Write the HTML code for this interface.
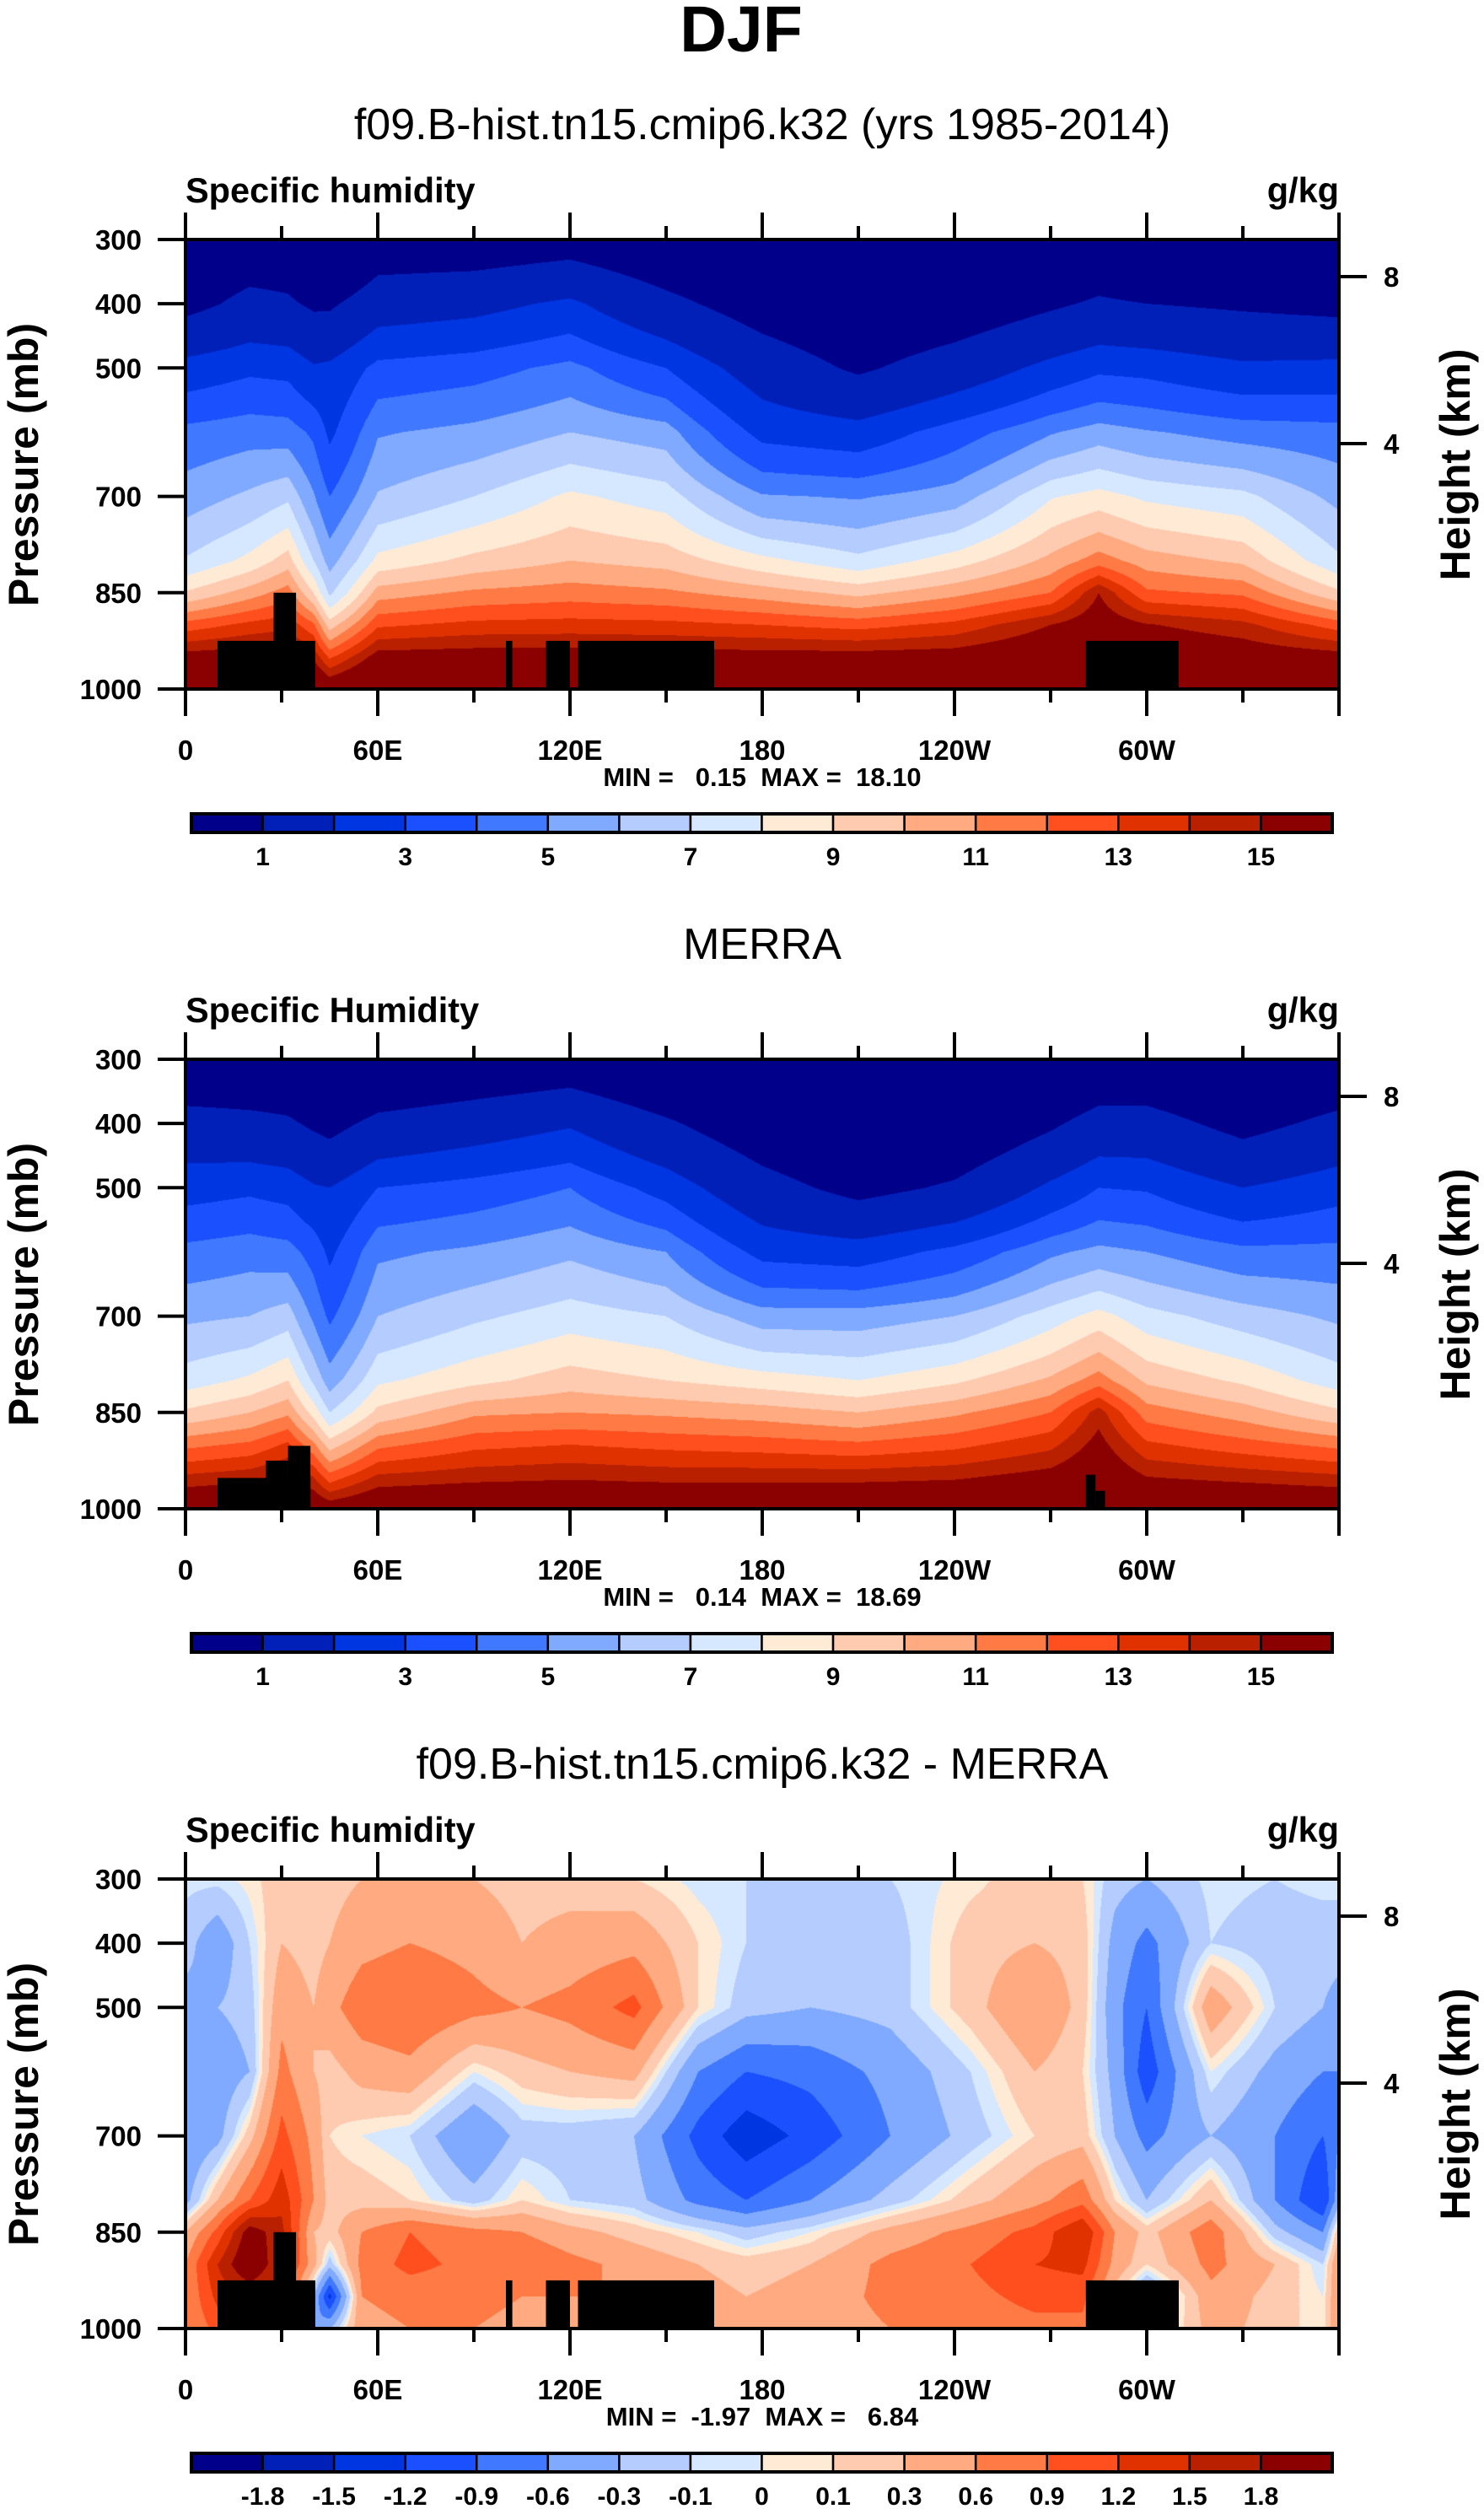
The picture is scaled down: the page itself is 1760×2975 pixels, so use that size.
<!DOCTYPE html>
<html><head><meta charset="utf-8"><style>
html,body{margin:0;padding:0;background:#fff;}
#wrap{position:relative;width:1760px;height:2975px;overflow:hidden;}
canvas{position:absolute;left:220px;}
svg{position:absolute;left:0;top:0;}
text{font-family:"Liberation Sans",sans-serif;}
</style></head><body>
<div id="wrap">
<canvas id="c1" width="1368" height="533" style="top:284px"></canvas>
<canvas id="c2" width="1368" height="533" style="top:1256px"></canvas>
<canvas id="c3" width="1368" height="533" style="top:2228px"></canvas>
<svg id="ov" width="1760" height="2975"></svg>
</div>
<script>
// ---------- data ----------
const pLevels = [300,400,500,600,700,800,850,900,950,1000];
const lonsModel = [0,20,32,40,45,60,90,120,150,180,210,240,270,285,300,330,360];
const qModel = [
[0.5,0.8,2.4,4.3,5.5,7.1,9.1,12.4,15.6,18],
[0.6,1.2,2.8,4.6,6.2,8.3,10.5,13.3,15.8,18],
[0.6,1.1,2.7,4.5,6.8,9.5,11.5,13.7,15.8,18],
[0.4,0.9,2.1,3.8,5.1,7,9,12.2,14.8,17.5],
[0.3,0.9,2.2,2.8,4,5.6,6.8,9.5,12.8,16.5],
[0.6,1.5,3.3,4.9,6.1,8.3,10.5,12.8,15.6,18],
[0.6,1.7,3.6,5.3,7,9.3,11.2,13.3,15.7,18],
[0.7,2.2,4.3,6,8.2,10,11.5,13.4,15.7,18],
[0.5,1.2,3,5.5,7.5,9.6,11.2,13.3,15.6,18],
[0.4,0.7,1.5,2.7,5.1,8.3,10.5,13,15.6,18],
[0.3,0.5,0.9,2.4,4.9,7.3,9.7,12.6,15.6,18],
[0.3,0.6,1.4,3.5,5.5,8.5,10.7,13.3,15.7,18],
[0.4,0.9,2.3,4.9,7.9,10.3,12,15,16.5,18],
[0.5,1.1,2.8,5.5,8.4,11.5,15,16,17,18],
[0.4,1,2.7,5.1,7.8,10.5,12.2,15.1,16.5,18],
[0.4,0.9,2.2,4.6,7.3,9.8,11.8,14.3,16,18],
[0.45,0.8,2.3,4.4,5.7,7.2,9.2,12.5,15.6,18]];
const lonsMerra = [0,20,32,40,45,60,90,120,150,180,210,240,270,285,300,330,360];
const qMerra = [
[0.5,1.3,2.6,4.3,5.8,7.5,9.2,11.7,14.2,16.8],
[0.5,1.2,2.8,4.6,6,8.2,10,12.2,14.6,17],
[0.5,1.1,2.6,4.4,6.5,9,10.8,13.2,15.3,17],
[0.4,0.9,2.1,3.6,4.8,6.8,8.6,11.2,14,16.5],
[0.3,0.8,2,2.8,3.8,5.5,7,9.5,12.4,16],
[0.4,1.2,3,4.8,6,7.8,9.3,11.7,14.2,16.8],
[0.5,1.5,3.4,5.2,6.8,8.7,10.8,12.7,14.6,17],
[0.6,1.9,4,5.8,7.5,9.5,11,13,14.8,17],
[0.4,1.1,2.6,5,7,9,10.8,12.7,14.6,17],
[0.3,0.6,1.3,2.7,5.5,8.5,10.5,12.5,14.6,17],
[0.25,0.4,0.8,2.5,5.5,8,10,12.2,14.6,17],
[0.3,0.5,1.1,3.3,6,8.8,10.8,12.7,14.8,17],
[0.4,0.9,2.2,4.8,7.5,10.2,12,13.7,15.5,17.2],
[0.5,1.3,3,5.3,8.4,11.5,14.5,15.5,16.5,17.5],
[0.5,1.3,2.9,5,7.4,9.8,11.5,13.2,15,17],
[0.4,0.8,2,4.3,6.5,8.8,10.5,12.4,14.6,17],
[0.5,1.2,2.6,4.3,5.8,7.5,9.2,11.7,14.2,16.8]];
const lonsDiff = [0,10,20,30,40,45,55,70,90,105,120,140,160,175,195,220,245,265,280,290,300,320,340,355,360];
const qDiff = [
[-0.05,-0.2,-0.4,-0.6,-0.6,-0.4,0.3,0.6,0.6,0.6],
[-0.05,-0.5,-0.3,-0.5,-0.4,0.3,1.0,1.5,1.3,1.0],
[0.05,-0.1,-0.2,-0.3,0.2,0.9,2.0,2.2,1.5,1.2],
[0.2,0.3,0.5,0.7,1.0,1.4,1.6,1.5,1.3,1.2],
[0.1,0.2,0.3,0.3,0.5,0.6,0.3,0.4,-0.3,-0.6],
[0.2,0.3,0.5,0.2,0.1,0.2,0.2,-0.2,-1.3,-0.3],
[0.3,0.5,0.8,0.4,0.0,0.2,0.6,0.7,0.6,0.5],
[0.4,0.6,0.9,0.5,-0.1,0.1,0.9,1.0,0.7,0.6],
[0.3,0.5,0.7,0.0,-0.6,-0.2,0.7,0.8,0.7,0.6],
[0.2,0.3,0.6,0.2,-0.2,0.1,0.6,0.9,0.6,0.5],
[0.2,0.4,0.7,0.3,-0.2,-0.1,0.4,0.7,0.6,0.5],
[0.1,0.5,1.0,0.4,-0.3,-0.2,0.2,0.5,0.6,0.5],
[-0.05,0.1,0.1,-0.6,-1.0,-0.7,0.0,0.3,0.4,0.4],
[-0.1,-0.1,-0.2,-0.9,-1.4,-0.9,-0.2,0.2,0.3,0.3],
[-0.15,-0.2,-0.3,-0.8,-1.1,-0.6,0.0,0.3,0.4,0.4],
[-0.1,-0.2,-0.2,-0.5,-0.6,-0.2,0.4,0.7,0.7,0.6],
[0.05,0.2,0.2,-0.1,-0.2,0.2,0.7,0.9,0.8,0.7],
[0.2,0.3,0.6,0.3,0.1,0.5,1.0,1.2,1.0,0.8],
[0.1,0.2,0.2,0.1,0.2,0.8,1.5,1.3,1.0,0.8],
[-0.2,-0.4,-0.5,-0.4,-0.3,0.1,0.6,0.5,0.2,0.2],
[-0.3,-0.7,-0.9,-1.1,-0.7,-0.3,0.2,0.1,-0.5,-0.3],
[-0.05,-0.1,0.5,0.0,-0.3,0.3,0.8,0.7,0.5,0.4],
[-0.1,-0.2,-0.1,-0.4,-0.6,-0.6,-0.2,0.3,0.2,0.2],
[-0.05,-0.2,-0.3,-0.6,-0.9,-1.2,-0.6,-0.1,0.0,0.0],
[-0.05,-0.2,-0.4,-0.6,-0.6,-0.4,0.3,0.6,0.6,0.6]];
const levelsAbs = [1,2,3,4,5,6,7,8,9,10,11,12,13,14,15];
const levelsDiff = [-1.8,-1.5,-1.2,-0.9,-0.6,-0.3,-0.1,0,0.1,0.3,0.6,0.9,1.2,1.5,1.8];
const labelsAbs = ['1','','3','','5','','7','','9','','11','','13','','15'];
const labelsDiff = ['-1.8','-1.5','-1.2','-0.9','-0.6','-0.3','-0.1','0','0.1','0.3','0.6','0.9','1.2','1.5','1.8'];
const terrainModel = [[10,40.5,925],[27.5,34.5,850],[100,102,925],[112.5,120,925],[122.5,165,925],[281,310,925]];
const terrainMerra = [[10,39,952],[25,32,925],[32,39,902],[281,284,947],[284,287,972]];
const xTickLons = [0,60,120,180,240,300];
const xTickLabels = ['0','60E','120E','180','120W','60W'];
const yTickP = [300,400,500,700,850,1000];
const palette = ['#00008b','#0020b8','#0035e2','#1a50ff','#4078ff','#80aaff','#b4ccff','#d6e8ff','#ffead6','#ffcbb0','#ffaa80','#ff7a45','#ff4f1e','#e03200','#b82000','#8b0000'];

// ---------- geometry ----------
const PX0=220, PW=1368, PH=533;
const panelTops=[284,1256,2228];
function X(lon){return PX0+lon*PW/360;}
function Y(p,top){return top+(p-300)*PH/700;}
function hex(c){return [parseInt(c.slice(1,3),16),parseInt(c.slice(3,5),16),parseInt(c.slice(5,7),16)];}
const palRGB=palette.map(hex);

function drawField(id,lons,grid,levels,useLog){
  const cv=document.getElementById(id),ctx=cv.getContext('2d');
  const img=ctx.createImageData(PW,PH),d=img.data;
  const g=grid.map(col=>col.map(v=>useLog?Math.log(Math.max(v,0.05)):v));
  for(let px=0;px<PW;px++){
    const lon=(px+0.5)*360/PW;
    let i=0;while(i<lons.length-2&&lon>lons[i+1])i++;
    const tx=(lon-lons[i])/(lons[i+1]-lons[i]);
    for(let py=0;py<PH;py++){
      const p=300+(py+0.5)*700/PH;
      let j=0;while(j<pLevels.length-2&&p>pLevels[j+1])j++;
      const ty=(p-pLevels[j])/(pLevels[j+1]-pLevels[j]);
      let v=(1-tx)*((1-ty)*g[i][j]+ty*g[i][j+1])+tx*((1-ty)*g[i+1][j]+ty*g[i+1][j+1]);
      if(useLog)v=Math.exp(v);
      let k=0;while(k<levels.length&&v>=levels[k])k++;
      const c=palRGB[k],o=(py*PW+px)*4;
      d[o]=c[0];d[o+1]=c[1];d[o+2]=c[2];d[o+3]=255;
    }
  }
  ctx.putImageData(img,0,0);
}
drawField('c1',lonsModel,qModel,levelsAbs,true);
drawField('c2',lonsMerra,qMerra,levelsAbs,true);
drawField('c3',lonsDiff,qDiff,levelsDiff,false);

// ---------- svg overlay ----------
const NS='http://www.w3.org/2000/svg';
const ov=document.getElementById('ov');
function el(tag,attrs,parent){const e=document.createElementNS(NS,tag);for(const k in attrs)e.setAttribute(k,attrs[k]);(parent||ov).appendChild(e);return e;}
function txt(s,attrs,parent){const e=el('text',attrs,parent);e.textContent=s;return e;}

let t;
t=txt('DJF',{x:879,y:61,'text-anchor':'middle','font-size':77,'font-weight':'bold'});



const titles=['f09.B-hist.tn15.cmip6.k32 (yrs 1985-2014)','MERRA','f09.B-hist.tn15.cmip6.k32 - MERRA'];
const leftLabels=['Specific humidity','Specific Humidity','Specific humidity'];
const minmax=['MIN =   0.15  MAX =  18.10','MIN =   0.14  MAX =  18.69','MIN =  -1.97  MAX =   6.84'];
const terrains=[terrainModel,terrainMerra,terrainModel];
const names=['model','merra','difference'];

panelTops.forEach((top,pi)=>{
  const g=el('g',{});
  
  
  t=txt(titles[pi],{x:904,y:top-119,'text-anchor':'middle','font-size':52},g);
  
  
  t=txt(leftLabels[pi],{x:220,y:top-44,'font-size':41.5,'font-weight':'bold'},g);
  
  
  t=txt('g/kg',{x:1588,y:top-44,'text-anchor':'end','font-size':41.5,'font-weight':'bold'},g);
  
  
  terrains[pi].forEach(b=>{
    const r=el('rect',{x:X(b[0]),y:Y(b[2],top),width:X(b[1])-X(b[0]),height:Y(1000,top)-Y(b[2],top),fill:'#000'},g);
    
    
  });
  const fr=el('rect',{x:PX0,y:top,width:PW,height:PH,fill:'none',stroke:'#000','stroke-width':4},g);
  
  
  for(let lon=0;lon<=360;lon+=30){
    const major=lon%60===0,len=major?32:16,x=X(lon);
    el('line',{x1:x,y1:top+PH,x2:x,y2:top+PH+len,stroke:'#000','stroke-width':4},g);
    el('line',{x1:x,y1:top,x2:x,y2:top-len,stroke:'#000','stroke-width':4},g);
  }
  xTickLons.forEach((lon,i)=>{
    t=txt(xTickLabels[i],{x:X(lon),y:top+PH+84,'text-anchor':'middle','font-size':33,'font-weight':'bold'},g);
    
    
  });
  yTickP.forEach(p=>{
    const y=Y(p,top);
    el('line',{x1:PX0-33,y1:y,x2:PX0,y2:y,stroke:'#000','stroke-width':4},g);
    t=txt(String(p),{x:168,y:y+12,'text-anchor':'end','font-size':33,'font-weight':'bold'},g);
    
    
  });
  [[8,44],[4,242]].forEach(h=>{
    const y=top+h[1];
    el('line',{x1:PX0+PW,y1:y,x2:PX0+PW+33,y2:y,stroke:'#000','stroke-width':4},g);
    t=txt(String(h[0]),{x:1641,y:y+12,'font-size':33,'font-weight':'bold'},g);
    
    
  });
  t=txt('Pressure (mb)',{x:0,y:0,'text-anchor':'middle','font-size':50,'font-weight':'bold',transform:`translate(45,${top+267}) rotate(-90)`},g);
  
  
  t=txt('Height (km)',{x:0,y:0,'text-anchor':'middle','font-size':50,'font-weight':'bold',transform:`translate(1743,${top+267}) rotate(-90)`},g);
  
  
  t=txt(minmax[pi],{x:904,y:top+648,'text-anchor':'middle','font-size':31,'font-weight':'bold'},g);
  t.style.whiteSpace='pre';
  
  
  const cb=el('g',{},g);
  
  
  const cx0=227,cx1=1580,cy=top+681,ch=22,bw=(cx1-cx0)/16;
  palette.forEach((c,k)=>{
    const r=el('rect',{x:cx0+k*bw,y:cy,width:bw,height:ch,fill:c,stroke:'#000','stroke-width':2.5},cb);
    
    
  });
  el('rect',{x:cx0,y:cy,width:cx1-cx0,height:ch,fill:'none',stroke:'#000','stroke-width':4},cb);
  const labs=pi===2?labelsDiff:labelsAbs;
  labs.forEach((s,k)=>{
    if(!s)return;
    t=txt(s,{x:cx0+(k+1)*bw,y:cy+61,'text-anchor':'middle','font-size':30,'font-weight':'bold'},cb);
    
    
  });
});
</script>
</body></html>
